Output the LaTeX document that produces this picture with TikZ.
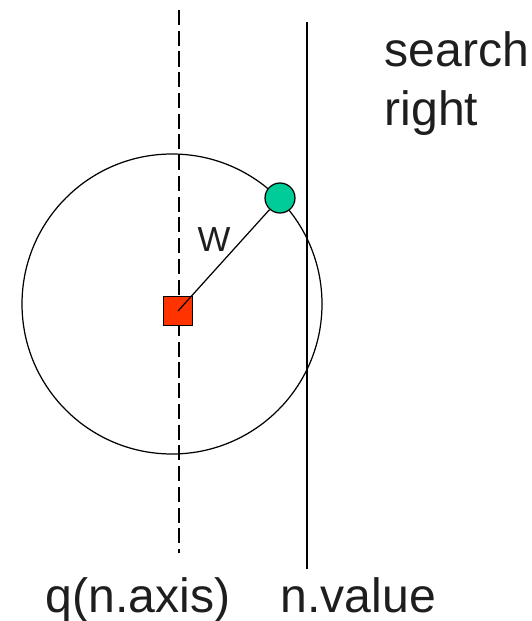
\documentclass[tikz,border=0pt]{standalone}
\usepackage{fontspec}
\setmainfont{Liberation Sans}
\usetikzlibrary{positioning}
\definecolor{qred}{HTML}{FF3300}
\definecolor{nbr}{HTML}{00CC99}
\definecolor{txt}{HTML}{1E1E1E}

\begin{document}
\begin{tikzpicture}[x=0.02cm, y=-0.02cm, font=\fontsize{27.4}{30}\selectfont, line width=0.7pt,
                    lbl/.style={inner sep=0pt, anchor=base west, text=txt}]
  \useasboundingbox (0,0) rectangle (531,621);

  % split axis and node value
  \coordinate (axtop) at (179,10);
  \coordinate (axbot) at (179,553);
  \coordinate (valtop) at (307,22);
  \coordinate (valbot) at (307,569);
  \draw[dash pattern=on 8.6pt off 3.2pt] (axtop) -- (axbot);
  \draw (valtop) -- (valbot);

  % query ball
  \draw (172,304) circle[radius=150];

  \node[rectangle, draw, fill=qred, minimum size=0.58cm, inner sep=0pt] (q) at (178,311) {};
  \node[circle, draw, fill=nbr, minimum size=0.6cm, inner sep=0pt] (p) at (280,198) {};
  \draw (q.center) -- (p);
  \node[inner sep=0pt, text=txt, font=\fontsize{19.8}{22}\selectfont] (w) at (214,240) {W};

  \node[lbl] (search) at (384,67) {search};
  \node[lbl] (right) at (384,126) {right};
  \node[lbl] (axis) at (45,612) {q(n.axis)};
  \node[lbl] (value) at (280,612) {n.value};
\end{tikzpicture}
\end{document}
